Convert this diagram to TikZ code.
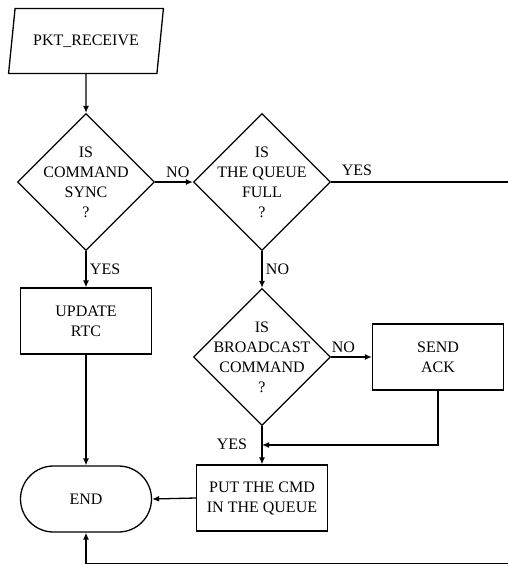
\documentclass[tikz,border=0pt]{standalone}
\usepackage{fontspec}
\setmainfont{Liberation Serif}
\usetikzlibrary{shapes.geometric,arrows.meta}
\begin{document}
\begin{tikzpicture}[x=1pt,y=-1pt,line width=1.3pt,font=\fontsize{16}{20}\selectfont,
	io/.style={draw,trapezium,trapezium stretches=true,trapezium left angle=69,
		trapezium right angle=111,minimum width=155pt,minimum height=65pt,inner sep=0pt},
	decision/.style={draw,diamond,minimum width=137pt,minimum height=137pt,inner sep=0pt},
	process/.style={draw,rectangle,minimum width=131pt,minimum height=66pt,align=center,inner sep=0pt},
	terminal/.style={draw,rectangle,rounded corners=33pt,minimum width=131pt,minimum height=66pt},
	qtext/.style={align=center},
	flow/.style={-{Latex[length=7pt,width=6pt]}}]
	\useasboundingbox (0,0) rectangle (507,565);

	%blocks
	\node[io] (recv) at (86,41) {PKT\_RECEIVE};
	\node[decision] (sync) at (86,182) {};
	\node[qtext] (synctxt) at (sync) {IS\\COMMAND\\SYNC\\?};
	\node[decision] (full) at (262,182) {};
	\node[qtext] (fulltxt) at (full) {IS\\THE QUEUE\\FULL\\?};
	\node[decision] (bcast) at (262,357) {};
	\node[qtext] (bcasttxt) at (bcast) {IS\\BROADCAST\\COMMAND\\?};
	\node[process] (rtc) at (86,321) {UPDATE\\RTC};
	\node[process] (ack) at (438,357) {SEND\\ACK};
	\node[process] (put) at (262,498) {PUT THE CMD\\IN THE QUEUE};
	\node[terminal] (stop) at (86,499) {END};

	%helper points
	\coordinate (merge) at (262,445);
	\coordinate (rtop) at (512,182);
	\coordinate (rbot) at (512,563.5);

	%arrows
	\draw[flow] (recv) -- (sync);
	\draw[flow] (sync.east) -- node[above,pos=0.6] (nosync) {NO} (full.west);
	\draw[flow] (sync.south) -- node[right] (yessync) {YES} (rtc.north);
	\draw[flow] (rtc.south) -- (stop.north);
	\draw[flow] (full.south) -- node[right] (nofull) {NO} (bcast.north);
	\draw[flow] (bcast.east) -- node[above,pos=0.3] (nobcast) {NO} (ack.west);
	\draw[flow] (ack.south) |- (merge);
	\draw[flow] (bcast.south) -- (put.north);
	\draw[flow] (put.west) -- (stop.east);
	\draw[flow] (full.east) -- (rtop) -- (rbot) -| (stop.south);

	%labels
	\node (yesfull) at (357,170) {YES};
	\node (yesbcast) at (232,444) {YES};
\end{tikzpicture}
\end{document}
